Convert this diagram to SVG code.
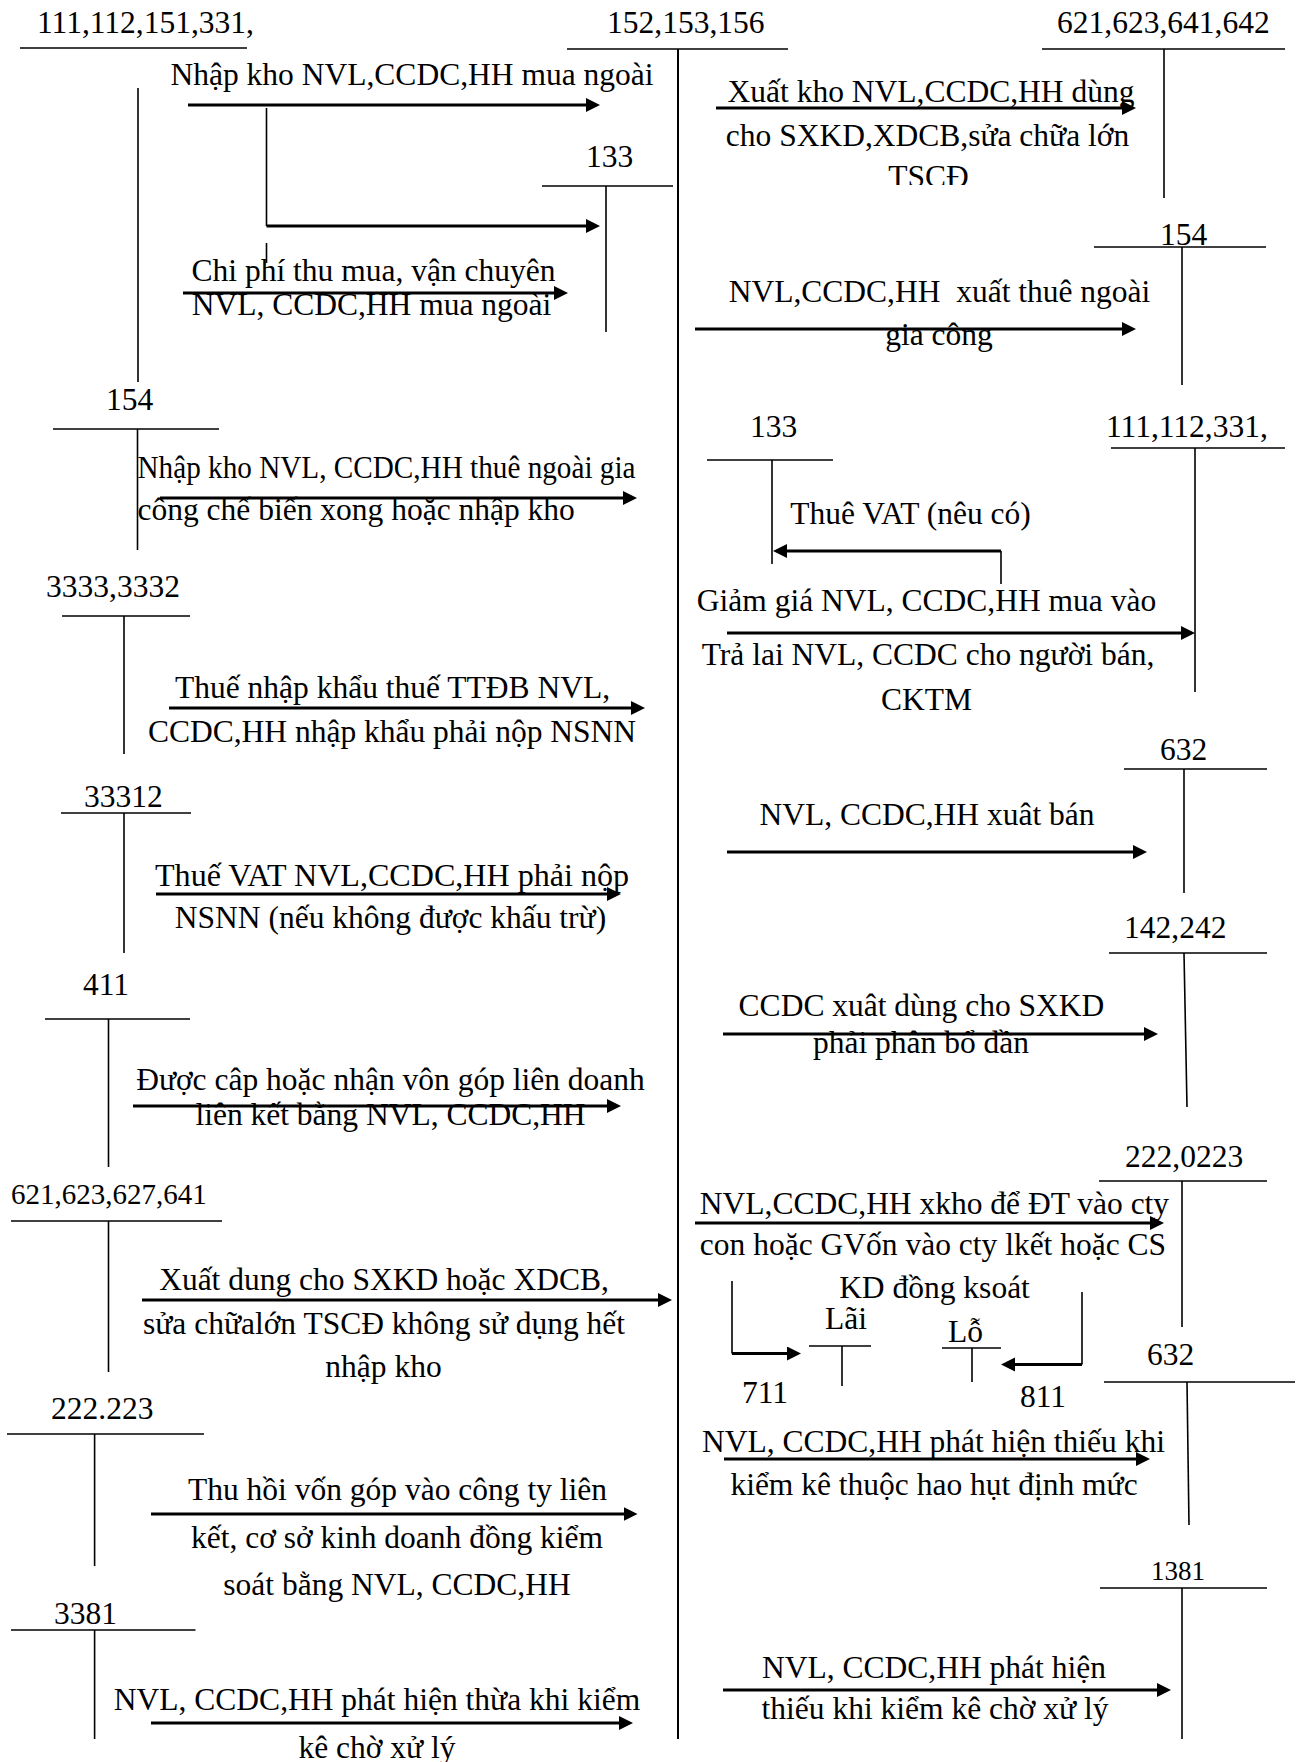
<svg xmlns="http://www.w3.org/2000/svg" width="1300" height="1762" viewBox="0 0 1300 1762">
<style>
text{font-family:"Liberation Serif","Times New Roman",serif;font-size:31.5px;fill:#000}
.m{text-anchor:middle}
.t{stroke:#000;stroke-width:1.6;fill:none}
.a{stroke:#000;stroke-width:3;fill:none;marker-end:url(#ah)}
.b{stroke:#000;stroke-width:1.6;fill:none}
</style>
<defs>
<marker id="ah" markerUnits="userSpaceOnUse" markerWidth="16" markerHeight="16" refX="4" refY="7" orient="auto"><path d="M0,0 L14,7 L0,14 z" fill="#000"/></marker>
<clipPath id="clipT"><rect x="840" y="140" width="180" height="45"/></clipPath>
</defs>
<rect width="1300" height="1762" fill="#fff"/>

<g id="acc-111-top"><text x="37" y="33">111,112,151,331,</text><line class="t" x1="20" y1="48" x2="247" y2="48"/><line class="t" x1="138" y1="88" x2="138" y2="382"/></g>
<g id="acc-152"><text x="607" y="33">152,153,156</text><line class="t" x1="567" y1="49" x2="788" y2="49"/><line class="t" x1="678" y1="49" x2="678" y2="1739" style="stroke-width:2"/></g>
<g id="acc-621-top"><text x="1057" y="33">621,623,641,642</text><line class="t" x1="1042" y1="49" x2="1285" y2="49"/><line class="t" x1="1164" y1="49" x2="1164" y2="198"/></g>
<g id="acc-133-a"><text x="586" y="167">133</text><line class="t" x1="542" y1="186" x2="673" y2="186"/><line class="t" x1="606" y1="186" x2="606" y2="332"/></g>
<g id="acc-154-right"><text x="1160" y="245">154</text><line class="t" x1="1094" y1="247" x2="1266" y2="247"/><line class="t" x1="1182" y1="247" x2="1182" y2="385"/></g>
<g id="acc-154-left"><text x="106" y="410">154</text><line class="t" x1="53" y1="429" x2="219" y2="429"/><line class="t" x1="137.5" y1="429" x2="137.5" y2="550"/></g>
<g id="acc-3333"><text x="46" y="597">3333,3332</text><line class="t" x1="62" y1="616" x2="190" y2="616"/><line class="t" x1="124" y1="616" x2="124" y2="754"/></g>
<g id="acc-133-b"><text x="750" y="437">133</text><line class="t" x1="707" y1="460" x2="833" y2="460"/><line class="t" x1="772" y1="460" x2="772" y2="564"/></g>
<g id="acc-111-right"><text x="1106" y="437">111,112,331,</text><line class="t" x1="1111" y1="448" x2="1285" y2="448"/><line class="t" x1="1195" y1="448" x2="1195" y2="692"/></g>
<g id="acc-632-a"><text x="1160" y="760">632</text><line class="t" x1="1124" y1="769" x2="1267" y2="769"/><line class="t" x1="1184" y1="769" x2="1184" y2="893"/></g>
<g id="acc-33312"><text x="84" y="807">33312</text><line class="t" x1="61" y1="813" x2="191" y2="813"/><line class="t" x1="124" y1="813" x2="124" y2="953"/></g>
<g id="acc-142"><text x="1124" y="938">142,242</text><line class="t" x1="1109" y1="953" x2="1267" y2="953"/><line class="t" x1="1184" y1="953" x2="1187" y2="1107"/></g>
<g id="acc-411"><text x="83" y="995">411</text><line class="t" x1="45" y1="1019" x2="190" y2="1019"/><line class="t" x1="108.5" y1="1019" x2="108.5" y2="1167"/></g>
<g id="acc-222-right"><text x="1125" y="1167">222,0223</text><line class="t" x1="1099" y1="1181" x2="1267" y2="1181"/><line class="t" x1="1182" y1="1181" x2="1182" y2="1327"/></g>
<g id="acc-621-left"><text x="11" y="1204" style="font-size:29px">621,623,627,641</text><line class="t" x1="11" y1="1221" x2="222" y2="1221"/><line class="t" x1="108.5" y1="1221" x2="108.5" y2="1372"/></g>
<g id="acc-711"><text x="825" y="1329">Lãi</text><line class="t" x1="809" y1="1346" x2="871" y2="1346"/><line class="t" x1="842" y1="1346" x2="842" y2="1386"/><text x="742" y="1403">711</text></g>
<g id="acc-811"><text x="948" y="1342">Lỗ</text><line class="t" x1="942" y1="1348" x2="1001" y2="1348"/><line class="t" x1="972" y1="1348" x2="972" y2="1382"/><text x="1020" y="1407">811</text></g>
<g id="acc-632-b"><text x="1147" y="1365">632</text><line class="t" x1="1104" y1="1382" x2="1295" y2="1382"/><line class="t" x1="1187" y1="1382" x2="1189" y2="1525"/></g>
<g id="acc-222-left"><text x="51" y="1419">222.223</text><line class="t" x1="7" y1="1434" x2="204" y2="1434"/><line class="t" x1="94.6" y1="1434" x2="94.6" y2="1566"/></g>
<g id="acc-3381"><text x="54" y="1624">3381</text><line class="t" x1="11" y1="1630" x2="195.5" y2="1630"/><line class="t" x1="94.6" y1="1630" x2="94.6" y2="1739"/></g>
<g id="acc-1381"><text x="1151" y="1580" style="font-size:27px">1381</text><line class="t" x1="1100" y1="1588" x2="1267" y2="1588"/><line class="t" x1="1182" y1="1588" x2="1182" y2="1739"/></g>

<g id="connectors">
<line class="a" x1="188" y1="105" x2="590" y2="105"/>
<line class="b" x1="266.5" y1="108" x2="266.5" y2="226"/>
<line class="a" x1="266.5" y1="226" x2="590" y2="226"/>
<line class="b" x1="266.5" y1="243" x2="266.5" y2="263"/>
<line class="a" x1="183" y1="293" x2="558" y2="293"/>
<line class="a" x1="716" y1="108" x2="1126" y2="108"/>
<line class="a" x1="695" y1="329" x2="1126" y2="329"/>
<line class="a" x1="160" y1="498" x2="627" y2="498"/>
<line class="a" x1="169" y1="708" x2="635" y2="708"/>
<line class="b" x1="1001" y1="584" x2="1001" y2="551"/>
<line class="a" x1="1001" y1="551" x2="783" y2="551"/>
<line class="a" x1="727" y1="633" x2="1185" y2="633"/>
<line class="a" x1="156" y1="894" x2="611" y2="894"/>
<line class="a" x1="727" y1="852" x2="1137" y2="852"/>
<line class="a" x1="723" y1="1034" x2="1148" y2="1034"/>
<line class="a" x1="133" y1="1106" x2="611" y2="1106"/>
<line class="a" x1="695" y1="1223" x2="1154" y2="1223"/>
<line class="a" x1="142" y1="1300" x2="662" y2="1300"/>
<line class="b" x1="732" y1="1281" x2="732" y2="1353.5"/>
<line class="a" x1="732" y1="1353.5" x2="791" y2="1353.5"/>
<line class="b" x1="1082" y1="1292" x2="1082" y2="1364.5"/>
<line class="a" x1="1082" y1="1364.5" x2="1011" y2="1364.5"/>
<line class="a" x1="151" y1="1514" x2="627.5" y2="1514"/>
<line class="a" x1="724" y1="1459" x2="1140" y2="1459"/>
<line class="a" x1="723" y1="1690" x2="1161" y2="1690"/>
<line class="a" x1="151" y1="1723" x2="623" y2="1723"/>
</g>

<g id="labels">
<text class="m" x="412" y="85">Nhập kho NVL,CCDC,HH mua ngoài</text>
<text class="m" x="373.5" y="281">Chi phí thu mua, vận chuyên</text>
<text class="m" x="371.5" y="315">NVL, CCDC,HH mua ngoài</text>
<text class="m" x="931" y="102">Xuất kho NVL,CCDC,HH dùng</text>
<text class="m" x="927.5" y="146">cho SXKD,XDCB,sửa chữa lớn</text>
<text class="m" x="928.5" y="187" clip-path="url(#clipT)">TSCĐ</text>
<text class="m" x="939.5" y="302">NVL,CCDC,HH&#160; xuất thuê ngoài</text>
<text class="m" x="939" y="345">gia công</text>
<text x="137.5" y="478" textLength="498" lengthAdjust="spacingAndGlyphs">Nhập kho NVL, CCDC,HH thuê ngoài gia</text>
<text x="137.5" y="520">công chế biến xong hoặc nhập kho</text>
<text class="m" x="392.5" y="698">Thuế nhập khẩu thuế TTĐB NVL,</text>
<text class="m" x="392" y="742">CCDC,HH nhập khẩu phải nộp NSNN</text>
<text class="m" x="910.5" y="524">Thuê VAT (nêu có)</text>
<text class="m" x="926.5" y="611">Giảm giá NVL, CCDC,HH mua vào</text>
<text class="m" x="928" y="665">Trả lai NVL, CCDC cho người bán,</text>
<text class="m" x="926.5" y="710">CKTM</text>
<text class="m" x="392" y="886" textLength="474" lengthAdjust="spacingAndGlyphs">Thuế VAT NVL,CCDC,HH phải nộp</text>
<text class="m" x="390.5" y="928">NSNN (nếu không được khấu trừ)</text>
<text class="m" x="927" y="825">NVL, CCDC,HH xuât bán</text>
<text class="m" x="390.5" y="1090">Được câp hoặc nhận vôn góp liên doanh</text>
<text class="m" x="390.5" y="1125">liên kết bằng NVL, CCDC,HH</text>
<text class="m" x="921.5" y="1016">CCDC xuât dùng cho SXKD</text>
<text class="m" x="921" y="1053">phải phân bổ dần</text>
<text class="m" x="934.5" y="1214">NVL,CCDC,HH xkho để ĐT vào cty</text>
<text class="m" x="933" y="1255">con hoặc GVốn vào cty lkết hoặc CS</text>
<text class="m" x="934.5" y="1298">KD đồng ksoát</text>
<text class="m" x="384" y="1290">Xuất dung cho SXKD hoặc XDCB,</text>
<text class="m" x="384" y="1334">sửa chữalớn TSCĐ không sử dụng hết</text>
<text class="m" x="383.5" y="1377">nhập kho</text>
<text class="m" x="397.5" y="1500">Thu hồi vốn góp vào công ty liên</text>
<text class="m" x="397" y="1548">kết, cơ sở kinh doanh đồng kiểm</text>
<text class="m" x="397" y="1595">soát bằng NVL, CCDC,HH</text>
<text class="m" x="933.5" y="1452">NVL, CCDC,HH phát hiện thiếu khi</text>
<text class="m" x="934" y="1495">kiểm kê thuộc hao hụt định mức</text>
<text class="m" x="377" y="1710">NVL, CCDC,HH phát hiện thừa khi kiểm</text>
<text class="m" x="377" y="1758">kê chờ xử lý</text>
<text class="m" x="934" y="1678">NVL, CCDC,HH phát hiện</text>
<text class="m" x="935" y="1719">thiếu khi kiểm kê chờ xử lý</text>
</g>
</svg>
